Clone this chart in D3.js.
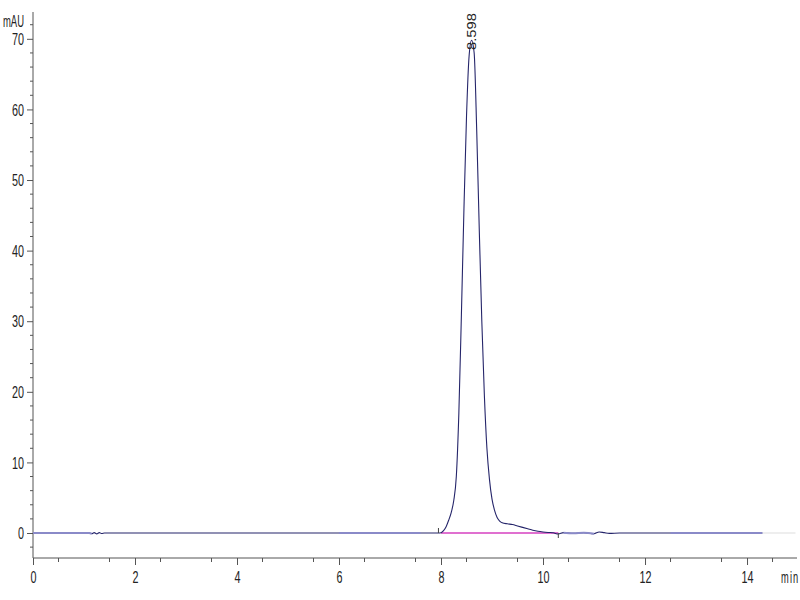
<!DOCTYPE html>
<html>
<head>
<meta charset="utf-8">
<script src="https://d3js.org/d3.v7.min.js"></script>
<style>
  body { margin: 0; background: #fff; }
  svg text { font-family: "Liberation Sans", Arial, sans-serif; fill: #222; }
</style>
</head>
<body>
<svg id="chart" width="800" height="600"></svg>
<script>
// chromatogram trace (min, mAU)
const times = [0, 1.1, 1.15, 1.2, 1.25, 1.3, 1.35, 1.4, 6, 7.6, 7.9, 7.95,
  8.0, 8.05, 8.1, 8.15, 8.2, 8.25, 8.3, 8.35, 8.4, 8.45, 8.5, 8.55, 8.6, 8.65,
  8.7, 8.75, 8.8, 8.85, 8.9, 8.95, 9.0, 9.05, 9.1, 9.15, 9.2, 9.3, 9.4, 9.5,
  9.6, 9.7, 9.8, 9.9, 10.0, 10.1, 10.2, 10.3, 10.4, 10.6, 10.8, 11.0, 11.1,
  11.2, 11.3, 11.5, 12.5, 14.3];
const signal = [0, 0, -0.1, 0.05, -0.12, 0.05, -0.08, 0, 0, 0, 0, 0,
  0.05, 0.35, 0.9, 1.8, 2.9, 4.6, 8.0, 17, 31, 46, 59, 67.5, 69.8, 68,
  57, 43, 30, 19.5, 12, 7.6, 4.8, 3.2, 2.2, 1.7, 1.45, 1.3, 1.2, 1.0,
  0.8, 0.6, 0.4, 0.25, 0.15, 0.08, 0.03, -0.15, 0.05, -0.05, 0.05, -0.1, 0.15,
  0.05, -0.05, 0, 0, 0];

// lighter-coloured stretches of the trace
const lightSegments = [[0, 1.15], [6.0, 7.6], [10.35, 11.0], [12.5, 14.3]];

// integrated peak
const peakLabel = "8.598";
const peakTime = 8.598;
const peakStart = 7.95;
const peakEnd = 10.3;
const baseStart = 8.0;

const xTicks = [0, 2, 4, 6, 8, 10, 12, 14];
const yTicks = [0, 10, 20, 30, 40, 50, 60, 70];

const svg = d3.select("#chart");
const x = d3.scaleLinear().domain([0, 14.98]).range([33, 797]);
const y = d3.scaleLinear().domain([-3.54, 73.8]).range([558, 12]);

const axisColor = "#555";

// squeeze text to look like the narrow instrument font
function narrow(sel, perChar) {
  sel.attr("font-size", 16)
    .attr("lengthAdjust", "spacingAndGlyphs")
    .attr("textLength", function() { return this.textContent.length * perChar; });
}

// y axis
const yAxis = d3.axisLeft(y).tickValues(yTicks).tickSize(6).tickPadding(3).tickFormat(d3.format("d"));
const gy = svg.append("g").attr("transform", "translate(33,0)").call(yAxis);
gy.select(".domain").remove();
gy.selectAll("line").attr("stroke", axisColor);
gy.selectAll("text").style("font-family", null).attr("dy", "0.36em").call(narrow, 6);
svg.append("line").attr("x1", 33).attr("x2", 33).attr("y1", 12).attr("y2", 558)
  .attr("stroke", axisColor);
svg.append("g").selectAll("line").data(d3.range(-2, 73, 2).filter(v => v % 10 !== 0))
  .join("line")
  .attr("x1", 30).attr("x2", 33).attr("y1", d => y(d)).attr("y2", d => y(d))
  .attr("stroke", axisColor);
svg.append("text").attr("x", 24).attr("y", 27).attr("text-anchor", "end")
  .text("mAU").call(narrow, 7);

// x axis
const xAxis = d3.axisBottom(x).tickValues(xTicks).tickSize(7).tickPadding(5).tickFormat(d3.format("d"));
const gx = svg.append("g").attr("transform", "translate(0,558)").call(xAxis);
gx.select(".domain").remove();
gx.selectAll("line").attr("stroke", axisColor);
gx.selectAll("text").style("font-family", null).attr("y", 14).attr("dy", "0.71em").call(narrow, 6);
svg.append("line").attr("x1", 33).attr("x2", 797).attr("y1", 558).attr("y2", 558)
  .attr("stroke", axisColor);
svg.append("g").selectAll("line").data(d3.range(0.5, 14.9, 1))
  .join("line")
  .attr("x1", d => x(d)).attr("x2", d => x(d)).attr("y1", 558).attr("y2", 562)
  .attr("stroke", axisColor);
svg.append("text").attr("transform", "translate(781,583) scale(0.58,1)")
  .attr("font-size", 16).attr("letter-spacing", 2).text("min");

// integration baseline
svg.append("line").attr("x1", x(baseStart)).attr("x2", x(peakEnd))
  .attr("y1", y(0)).attr("y2", y(0))
  .attr("stroke", "#e070d0").attr("stroke-width", 2);

const pts = times.map((t, i) => [t, signal[i]]);
const line = d3.line().x(d => x(d[0])).y(d => y(d[1])).curve(d3.curveMonotoneX);

// faint tail after the run
svg.append("line").attr("x1", x(14.3)).attr("x2", x(14.95))
  .attr("y1", y(0)).attr("y2", y(0)).attr("stroke", "#ddd");

svg.append("path").datum(pts).attr("d", line)
  .attr("fill", "none").attr("stroke", "#25256a").attr("stroke-width", 1.1);

lightSegments.forEach(([a, b]) => {
  svg.append("path").datum(pts.filter(p => p[0] >= a && p[0] <= b)).attr("d", line)
    .attr("fill", "none").attr("stroke", "#8a8ac8").attr("stroke-width", 2);
});

// peak start / end marks
svg.append("line").attr("x1", x(peakStart)).attr("x2", x(peakStart))
  .attr("y1", y(0) - 5).attr("y2", y(0)).attr("stroke", "#444");
svg.append("line").attr("x1", x(peakEnd)).attr("x2", x(peakEnd))
  .attr("y1", y(0)).attr("y2", y(0) + 5).attr("stroke", "#444");

// retention time label
svg.append("text")
  .attr("transform", `translate(${x(peakTime)},50) rotate(-90)`)
  .attr("dominant-baseline", "central").attr("font-size", 13)
  .attr("textLength", 37).attr("lengthAdjust", "spacingAndGlyphs")
  .text(peakLabel);
</script>
</body>
</html>
